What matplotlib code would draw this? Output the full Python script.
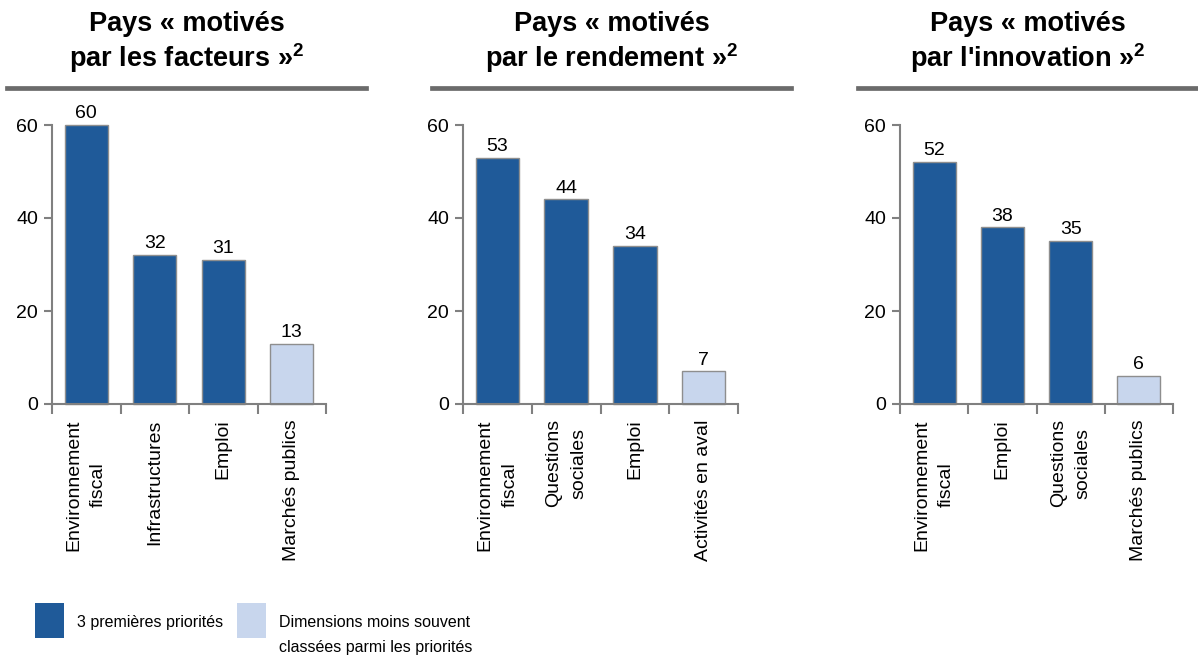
import matplotlib
matplotlib.use("Agg")
import matplotlib.pyplot as plt
from matplotlib.lines import Line2D
from matplotlib.patches import Rectangle

plt.rcParams['font.family'] = ['Liberation Sans', 'DejaVu Sans']
plt.rcParams['mathtext.fontset'] = 'custom'
plt.rcParams['mathtext.bf'] = 'Liberation Sans:bold'
plt.rcParams['mathtext.rm'] = 'Liberation Sans'

# Data for the three country groups
titles = [
    "Pays « motivés\npar les facteurs »$^{\\mathbf{2}}$",
    "Pays « motivés\npar le rendement »$^{\\mathbf{2}}$",
    "Pays « motivés\npar l'innovation »$^{\\mathbf{2}}$",
]
categories_facteurs = ["Environnement\nfiscal", "Infrastructures", "Emploi", "Marchés publics"]
values_facteurs = [60, 32, 31, 13]
categories_rendement = ["Environnement\nfiscal", "Questions\nsociales", "Emploi", "Activités en aval"]
values_rendement = [53, 44, 34, 7]
categories_innovation = ["Environnement\nfiscal", "Emploi", "Questions\nsociales", "Marchés publics"]
values_innovation = [52, 38, 35, 6]
# 1 = one of the top three priorities, 0 = less often ranked
top_flags = [1, 1, 1, 0]

legend_labels = ["3 premières priorités",
                 "Dimensions moins souvent\nclassées parmi les priorités"]

dark_blue = "#1f5a99"
light_blue = "#c8d6ed"
axis_gray = "#808080"
W, H = 1198, 657

fig = plt.figure(figsize=(W / 100, H / 100), dpi=100)

panels = [
    (categories_facteurs, values_facteurs),
    (categories_rendement, values_rendement),
    (categories_innovation, values_innovation),
]
ax_left = [52, 463, 900]
ax_right = [326, 738, 1173]
rule_span = [(7, 366), (432, 791), (858, 1198)]
y0_px, y60_px = 404, 125

for i, (cats, vals) in enumerate(panels):
    ax = fig.add_axes([ax_left[i] / W, 1 - y0_px / H,
                       (ax_right[i] - ax_left[i]) / W, (y0_px - y60_px) / H])
    x = range(len(cats))
    colors = [dark_blue if f else light_blue for f in top_flags]
    ax.bar(x, vals, width=0.63, color=colors, edgecolor="#8e8e8e", linewidth=1.0,
           zorder=2, clip_on=False)
    for xi, v in zip(x, vals):
        ax.text(xi, v + 0.6, str(v), ha="center", va="bottom", fontsize=14)
    ax.set_xlim(-0.5, len(cats) - 0.5)
    ax.set_ylim(0, 60)
    ax.set_yticks([0, 20, 40, 60])
    ax.tick_params(axis="y", length=6, width=1.5, color=axis_gray, labelsize=14, pad=4)
    # category labels at bar centres, tick marks at category borders
    ax.set_xticks(list(x))
    ax.set_xticklabels(cats, rotation=90, fontsize=14, va="top", ha="center",
                       multialignment="center", linespacing=1.6)
    ax.tick_params(axis="x", which="major", length=0, pad=11)
    ax.set_xticks([k - 0.5 for k in range(len(cats) + 1)], minor=True)
    ax.tick_params(axis="x", which="minor", length=7, width=1.5, color=axis_gray)
    for s in ["top", "right"]:
        ax.spines[s].set_visible(False)
    for s in ["left", "bottom"]:
        ax.spines[s].set_color(axis_gray)
        ax.spines[s].set_linewidth(1.5)

    # panel heading with grey rule underneath
    cx = (rule_span[i][0] + rule_span[i][1]) / 2 / W
    fig.text(cx, 1 - 43 / H, titles[i], ha="center", va="center", fontsize=19.5,
             fontweight="bold", linespacing=1.18)
    fig.add_artist(Line2D([rule_span[i][0] / W, rule_span[i][1] / W],
                          [1 - 88 / H, 1 - 88 / H], color="#6b6b6b", linewidth=3.4))

# legend
for (lx, col), lab in zip([(35, dark_blue), (237, light_blue)], legend_labels):
    fig.add_artist(Rectangle((lx / W, 1 - 638 / H), 29 / W, 35 / H,
                             facecolor=col, edgecolor="none", transform=fig.transFigure))
    fig.text((lx + 42) / W, 1 - 615 / H, lab, ha="left", va="top", fontsize=11.5,
             linespacing=1.85)

fig.savefig("out.png", dpi=100)
